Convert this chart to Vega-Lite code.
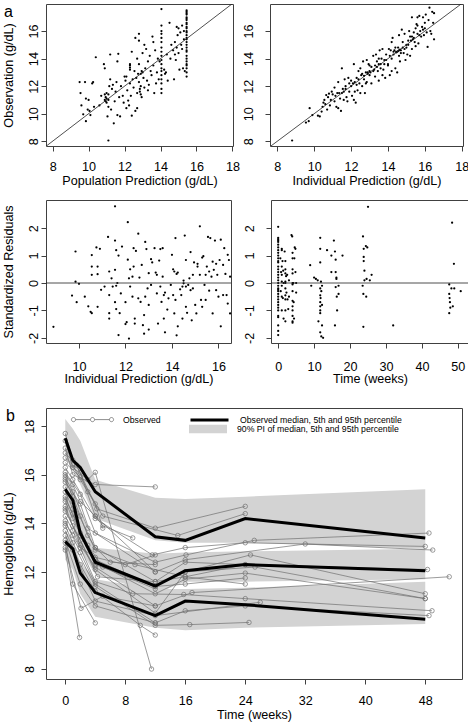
{
"$schema": "https://vega.github.io/schema/vega-lite/v6.json",
"padding": {"left": 1, "top": 3, "right": 0, "bottom": 0},
"resolve": {"scale": {"color": "independent", "fill": "independent", "stroke": "independent"}, "legend": {"color": "independent", "fill": "independent", "stroke": "independent"}},
"config": {
  "font": "Liberation Sans",
  "view": {"stroke": "#404040", "strokeWidth": 1},
  "axis": {"domain": false, "grid": false, "ticks": true, "tickColor": "#404040", "tickSize": 5, "tickWidth": 1, "tickCount": 20, "format": "d", "labelFont": "Liberation Sans", "labelFontSize": 12.6, "labelColor": "#000", "titleFont": "Liberation Sans", "titleFontSize": 12.6, "titleFontWeight": "normal", "titleColor": "#000", "labelFlush": false, "labelOverlap": false, "labelBound": false},
  "axisX": {"labelPadding": 9, "titlePadding": 2, "labelOverlap": false},
  "axisY": {"labelAngle": 270, "labelAlign": "center", "labelBaseline": "middle", "labelPadding": 8, "titlePadding": 12, "labelOverlap": false},
  "title": {"fontSize": 16, "fontWeight": "normal", "font": "Liberation Sans", "anchor": "start", "frame": "bounds", "color": "#000", "baseline": "alphabetic", "offset": 0},
  "legend": {"labelFont": "Liberation Sans", "labelFontSize": 8.7, "labelColor": "#000", "padding": 0, "labelLimit": 400}
},
"datasets": {
  "diag": [{"v": 6}, {"v": 20}],
  "zero": [{"v": 0}],
  "tl": [
{"x":9.5,"y":12.3},{"x":9.55,"y":11.5},{"x":9.6,"y":10.6},{"x":9.7,"y":9.95},{"x":9.8,"y":12.3},{"x":9.85,"y":11.1},{"x":9.85,"y":9.45},{"x":9.95,"y":10.3},{"x":10.0,"y":11.0},{"x":10.05,"y":10.2},{"x":10.1,"y":9.9},{"x":10.2,"y":12.2},{"x":10.25,"y":12.3},{"x":10.3,"y":10.5},{"x":10.4,"y":14.1},{"x":10.6,"y":10.6},{"x":10.7,"y":11.3},{"x":10.85,"y":13.6},{"x":10.9,"y":13.3},{"x":10.9,"y":11.4},{"x":10.9,"y":11.0},{"x":10.95,"y":11.2},{"x":10.95,"y":10.9},{"x":11.0,"y":11.5},{"x":11.0,"y":11.1},{"x":11.0,"y":10.8},{"x":11.05,"y":9.8},{"x":11.1,"y":11.4},{"x":11.1,"y":11.0},{"x":11.1,"y":10.5},{"x":11.1,"y":8.05},{"x":11.15,"y":12.0},{"x":11.2,"y":12.5},{"x":11.2,"y":14.3},{"x":11.25,"y":10.3},{"x":11.3,"y":11.8},{"x":11.35,"y":12.1},{"x":11.4,"y":9.3},{"x":11.45,"y":10.9},{"x":11.5,"y":11.6},{"x":11.55,"y":12.3},{"x":11.6,"y":9.9},{"x":11.6,"y":13.8},{"x":11.65,"y":14.35},{"x":11.7,"y":11.2},{"x":11.75,"y":9.8},{"x":11.8,"y":12.0},{"x":11.9,"y":11.3},{"x":11.95,"y":10.8},{"x":12.0,"y":12.7},{"x":12.05,"y":12.4},{"x":12.1,"y":12.7},{"x":12.1,"y":10.4},{"x":12.15,"y":11.7},{"x":12.2,"y":10.95},{"x":12.25,"y":10.6},{"x":12.3,"y":13.6},{"x":12.3,"y":13.5},{"x":12.3,"y":13.35},{"x":12.3,"y":13.2},{"x":12.3,"y":12.2},{"x":12.35,"y":11.3},{"x":12.4,"y":14.5},{"x":12.4,"y":9.85},{"x":12.45,"y":12.5},{"x":12.5,"y":11.9},{"x":12.55,"y":13.1},{"x":12.6,"y":15.5},{"x":12.6,"y":10.2},{"x":12.65,"y":12.6},{"x":12.7,"y":14.0},{"x":12.7,"y":11.5},{"x":12.7,"y":10.4},{"x":12.75,"y":12.9},{"x":12.8,"y":15.3},{"x":12.8,"y":15.8},{"x":12.8,"y":13.6},{"x":12.8,"y":12.3},{"x":12.85,"y":11.8},{"x":12.85,"y":11.6},{"x":12.9,"y":11.4},{"x":12.9,"y":12.0},{"x":12.9,"y":12.9},{"x":12.95,"y":11.2},{"x":12.95,"y":13.1},{"x":13.0,"y":13.0},{"x":13.0,"y":14.4},{"x":13.05,"y":12.6},{"x":13.1,"y":15.0},{"x":13.1,"y":11.9},{"x":13.15,"y":13.3},{"x":13.2,"y":14.7},{"x":13.25,"y":12.4},{"x":13.3,"y":13.8},{"x":13.3,"y":11.7},{"x":13.35,"y":12.1},{"x":13.4,"y":14.2},{"x":13.45,"y":13.1},{"x":13.5,"y":12.8},{"x":13.55,"y":15.6},{"x":13.6,"y":15.2},{"x":13.6,"y":13.5},{"x":13.65,"y":11.5},{"x":13.7,"y":14.6},{"x":13.75,"y":12.2},{"x":13.8,"y":13.0},{"x":13.85,"y":14.0},{"x":13.9,"y":12.5},{"x":13.95,"y":13.8},
{"x":14.05,"y":17.6},{"x":14.05,"y":16.4},{"x":14.05,"y":16.0},{"x":14.05,"y":15.8},{"x":14.05,"y":15.5},{"x":14.05,"y":15.2},{"x":14.05,"y":14.8},{"x":14.05,"y":14.5},{"x":14.05,"y":14.2},{"x":14.05,"y":13.9},{"x":14.05,"y":13.6},{"x":14.05,"y":13.3},{"x":14.05,"y":13.1},{"x":14.05,"y":12.8},{"x":14.05,"y":12.5},{"x":14.05,"y":12.2},{"x":14.05,"y":11.8},{"x":14.05,"y":11.5},
{"x":14.2,"y":13.2},{"x":14.25,"y":12.9},{"x":14.3,"y":13.0},{"x":14.35,"y":14.3},{"x":14.4,"y":12.4},{"x":14.5,"y":16.6},{"x":14.55,"y":14.0},{"x":14.6,"y":15.0},{"x":14.7,"y":14.6},{"x":14.75,"y":12.5},{"x":14.8,"y":15.2},{"x":14.8,"y":14.3},{"x":14.85,"y":13.9},{"x":14.9,"y":16.3},{"x":14.9,"y":14.8},{"x":14.95,"y":15.7},{"x":15.0,"y":14.4},{"x":15.0,"y":16.2},{"x":15.05,"y":13.2},{"x":15.1,"y":15.9},{"x":15.15,"y":15.0},{"x":15.2,"y":16.4},{"x":15.2,"y":14.7},{"x":15.25,"y":13.3},{"x":15.3,"y":16.0},{"x":15.3,"y":15.4},{"x":15.35,"y":13.1},
{"x":15.45,"y":17.5},{"x":15.45,"y":17.4},{"x":15.45,"y":17.3},{"x":15.45,"y":17.2},{"x":15.45,"y":17.0},{"x":15.45,"y":16.9},{"x":15.45,"y":16.8},{"x":15.45,"y":16.6},{"x":15.45,"y":16.5},{"x":15.45,"y":16.3},{"x":15.45,"y":16.2},{"x":15.45,"y":16.0},{"x":15.45,"y":15.9},{"x":15.45,"y":15.7},{"x":15.45,"y":15.5},{"x":15.45,"y":15.4},{"x":15.45,"y":15.2},{"x":15.45,"y":15.0},{"x":15.45,"y":14.8},{"x":15.45,"y":14.6},{"x":15.45,"y":14.5},{"x":15.45,"y":14.2},{"x":15.45,"y":14.0},{"x":15.45,"y":13.8},{"x":15.45,"y":13.6},{"x":15.45,"y":13.5},{"x":15.45,"y":13.3},{"x":15.45,"y":13.0},{"x":15.45,"y":12.7}
  ],
  "tr": [
{"x":8.8,"y":8.05},{"x":9.55,"y":9.35},{"x":9.7,"y":9.45},{"x":9.75,"y":10.4},{"x":9.9,"y":9.9},{"x":10.2,"y":9.85},{"x":10.3,"y":9.8},{"x":10.4,"y":10.15},{"x":10.45,"y":10.5},{"x":10.5,"y":10.8},{"x":10.55,"y":11.0},{"x":10.6,"y":10.7},{"x":10.65,"y":11.35},{"x":10.7,"y":10.3},{"x":10.75,"y":11.2},{"x":10.8,"y":11.45},{"x":10.85,"y":10.6},{"x":10.9,"y":11.0},{"x":10.95,"y":11.6},{"x":11.0,"y":11.4},{"x":11.1,"y":10.9},{"x":11.1,"y":11.9},{"x":11.15,"y":11.3},{"x":11.2,"y":10.5},{"x":11.25,"y":11.5},{"x":11.3,"y":10.4},{"x":11.3,"y":12.3},{"x":11.35,"y":11.5},{"x":11.4,"y":11.1},{"x":11.45,"y":10.2},{"x":11.5,"y":11.5},{"x":11.5,"y":13.3},{"x":11.55,"y":11.8},{"x":11.6,"y":11.0},{"x":11.6,"y":11.6},{"x":11.65,"y":12.5},{"x":11.7,"y":12.0},{"x":11.7,"y":11.8},{"x":11.75,"y":11.2},{"x":11.8,"y":10.9},{"x":11.85,"y":12.6},{"x":11.9,"y":11.6},{"x":11.9,"y":12.2},{"x":12.0,"y":12.0},{"x":12.0,"y":12.4},{"x":12.05,"y":11.3},{"x":12.1,"y":12.2},{"x":12.15,"y":13.6},{"x":12.15,"y":11.0},{"x":12.2,"y":12.3},{"x":12.2,"y":11.6},{"x":12.25,"y":10.8},{"x":12.3,"y":12.6},{"x":12.3,"y":12.1},{"x":12.35,"y":11.7},{"x":12.4,"y":13.1},{"x":12.4,"y":12.5},{"x":12.45,"y":12.2},{"x":12.5,"y":11.5},{"x":12.5,"y":13.3},{"x":12.55,"y":12.8},{"x":12.6,"y":12.0},{"x":12.6,"y":12.9},{"x":12.65,"y":13.8},{"x":12.7,"y":12.5},{"x":12.7,"y":12.75},{"x":12.75,"y":11.5},{"x":12.8,"y":13.0},{"x":12.8,"y":12.2},{"x":12.85,"y":12.3},{"x":12.85,"y":13.9},{"x":12.9,"y":12.9},{"x":12.9,"y":13.0},{"x":12.95,"y":13.6},{"x":13.0,"y":12.8},{"x":13.0,"y":13.1},{"x":13.0,"y":13.5},{"x":13.05,"y":13.0},{"x":13.1,"y":13.4},{"x":13.1,"y":12.2},{"x":13.2,"y":14.2},{"x":13.2,"y":13.1},{"x":13.25,"y":13.2},{"x":13.3,"y":13.5},{"x":13.3,"y":12.7},{"x":13.35,"y":14.3},{"x":13.4,"y":13.4},{"x":13.4,"y":13.8},{"x":13.45,"y":13.1},{"x":13.5,"y":13.6},{"x":13.5,"y":12.4},{"x":13.5,"y":14.0},{"x":13.55,"y":14.6},{"x":13.6,"y":13.3},{"x":13.6,"y":13.6},{"x":13.65,"y":14.0},{"x":13.7,"y":12.8},{"x":13.7,"y":14.7},{"x":13.75,"y":13.2},{"x":13.8,"y":13.9},{"x":13.8,"y":13.6},{"x":13.85,"y":12.6},{"x":13.9,"y":14.3},{"x":13.9,"y":13.9},{"x":14.0,"y":13.6},{"x":14.0,"y":13.5},{"x":14.05,"y":14.7},{"x":14.1,"y":12.8},{"x":14.1,"y":14.2},{"x":14.15,"y":14.6},{"x":14.2,"y":14.0},{"x":14.2,"y":13.1},{"x":14.2,"y":15.2},{"x":14.25,"y":15.5},{"x":14.3,"y":14.5},{"x":14.3,"y":14.3},{"x":14.35,"y":14.6},{"x":14.4,"y":13.3},{"x":14.4,"y":14.8},{"x":14.45,"y":14.5},{"x":14.45,"y":14.45},{"x":14.5,"y":14.5},{"x":14.5,"y":13.0},{"x":14.55,"y":14.8},{"x":14.55,"y":14.55},{"x":14.6,"y":14.2},{"x":14.6,"y":15.7},{"x":14.6,"y":14.6},{"x":14.65,"y":13.8},{"x":14.65,"y":14.65},{"x":14.7,"y":14.6},{"x":14.7,"y":14.4},{"x":14.75,"y":16.1},{"x":14.8,"y":14.8},{"x":14.8,"y":15.2},{"x":14.85,"y":14.4},{"x":14.9,"y":14.7},{"x":14.9,"y":15.8},{"x":14.95,"y":13.9},{"x":15.0,"y":15.0},{"x":15.0,"y":14.8},{"x":15.05,"y":14.3},{"x":15.1,"y":15.3},{"x":15.1,"y":15.0},{"x":15.15,"y":16.0},{"x":15.2,"y":14.2},{"x":15.2,"y":15.6},{"x":15.25,"y":15.3},{"x":15.3,"y":17.0},{"x":15.3,"y":14.7},{"x":15.3,"y":15.6},{"x":15.35,"y":15.4},{"x":15.4,"y":15.9},{"x":15.4,"y":15.5},{"x":15.45,"y":15.2},{"x":15.5,"y":16.2},{"x":15.5,"y":14.9},{"x":15.55,"y":16.5},{"x":15.6,"y":15.8},{"x":15.6,"y":16.4},{"x":15.6,"y":17.0},{"x":15.65,"y":15.1},{"x":15.7,"y":17.1},{"x":15.7,"y":15.7},{"x":15.75,"y":16.0},{"x":15.8,"y":15.6},{"x":15.85,"y":16.3},{"x":15.9,"y":17.0},{"x":15.9,"y":16.1},{"x":15.95,"y":15.7},{"x":16.0,"y":16.2},{"x":16.0,"y":16.6},{"x":16.05,"y":17.2},{"x":16.1,"y":15.9},{"x":16.15,"y":14.85},{"x":16.2,"y":16.8},{"x":16.25,"y":17.7},{"x":16.3,"y":16.0},{"x":16.35,"y":15.8},{"x":16.4,"y":17.4},{"x":16.45,"y":16.6},{"x":16.5,"y":15.4},{"x":16.5,"y":17.3}
  ],
  "bl": [
{"x":8.9,"y":-1.6},{"x":9.7,"y":-0.46},{"x":9.9,"y":-0.7},{"x":9.85,"y":1.15},{"x":9.85,"y":0.05},{"x":10.0,"y":-0.03},{"x":10.25,"y":-0.5},{"x":10.4,"y":-0.85},{"x":10.5,"y":-1.05},{"x":10.55,"y":-1.1},{"x":10.55,"y":0.6},{"x":10.55,"y":1.02},{"x":10.55,"y":0.3},{"x":10.75,"y":1.3},{"x":10.8,"y":0.6},{"x":10.8,"y":-0.87},{"x":10.9,"y":1.25},{"x":10.8,"y":0.32},{"x":10.95,"y":-0.25},{"x":11.1,"y":-0.13},{"x":11.3,"y":-0.44},{"x":11.25,"y":1.68},{"x":11.3,"y":0.42},{"x":11.3,"y":-1.1},{"x":11.3,"y":-1.3},{"x":11.4,"y":0.17},{"x":11.45,"y":-0.13},{"x":11.55,"y":1.55},{"x":11.55,"y":-0.7},{"x":11.55,"y":2.8},{"x":11.55,"y":0.48},{"x":11.6,"y":1.2},{"x":11.6,"y":-0.1},{"x":11.6,"y":-0.95},{"x":11.65,"y":0.0},{"x":11.7,"y":1.0},{"x":11.7,"y":-1.9},{"x":11.75,"y":-1.1},{"x":11.8,"y":-0.38},{"x":11.85,"y":1.33},{"x":12.0,"y":-1.5},{"x":12.0,"y":-0.7},{"x":12.05,"y":-1.43},{"x":12.1,"y":2.22},{"x":12.1,"y":0.85},{"x":12.15,"y":0.17},{"x":12.15,"y":-2.03},{"x":12.2,"y":0.5},{"x":12.2,"y":-0.13},{"x":12.3,"y":0.23},{"x":12.3,"y":-0.5},{"x":12.35,"y":1.27},{"x":12.35,"y":0.6},{"x":12.4,"y":-1.3},{"x":12.4,"y":-1.48},{"x":12.45,"y":1.17},{"x":12.55,"y":1.8},{"x":12.55,"y":-0.56},{"x":12.6,"y":0.2},{"x":12.65,"y":-0.69},{"x":12.7,"y":0.66},{"x":12.75,"y":-1.54},{"x":12.8,"y":-1.85},{"x":12.8,"y":-1.17},{"x":12.85,"y":-0.5},{"x":12.85,"y":1.5},{"x":12.9,"y":1.24},{"x":12.95,"y":-0.2},{"x":13.0,"y":0.36},{"x":13.0,"y":-1.7},{"x":13.0,"y":-0.8},{"x":13.1,"y":0.87},{"x":13.1,"y":-0.07},{"x":13.15,"y":0.75},{"x":13.25,"y":1.27},{"x":13.3,"y":0.38},{"x":13.35,"y":0.3},{"x":13.35,"y":-0.38},{"x":13.4,"y":-1.48},{"x":13.45,"y":0.82},{"x":13.5,"y":-0.13},{"x":13.5,"y":1.24},{"x":13.55,"y":-0.69},{"x":13.6,"y":1.27},{"x":13.6,"y":0.23},{"x":13.65,"y":-1.3},{"x":13.65,"y":-0.44},{"x":13.7,"y":-0.35},{"x":13.7,"y":-1.8},{"x":13.8,"y":-0.97},{"x":13.85,"y":-0.56},{"x":13.95,"y":-0.07},{"x":14.0,"y":1.03},{"x":14.05,"y":-0.44},{"x":14.05,"y":0.5},{"x":14.1,"y":0.42},{"x":14.1,"y":-1.11},{"x":14.15,"y":-0.62},{"x":14.15,"y":1.64},{"x":14.2,"y":0.33},{"x":14.2,"y":-1.91},{"x":14.25,"y":0.38},{"x":14.25,"y":-1.58},{"x":14.35,"y":-0.23},{"x":14.4,"y":-0.44},{"x":14.45,"y":-1.3},{"x":14.45,"y":-0.13},{"x":14.5,"y":0.09},{"x":14.5,"y":-0.01},{"x":14.55,"y":1.73},{"x":14.6,"y":-0.87},{"x":14.6,"y":0.84},{"x":14.6,"y":-0.13},{"x":14.65,"y":-1.09},{"x":14.7,"y":-0.07},{"x":14.75,"y":0.17},{"x":14.8,"y":-0.26},{"x":14.8,"y":1.13},{"x":14.85,"y":-1.36},{"x":14.9,"y":-0.2},{"x":14.9,"y":0.3},{"x":14.95,"y":0.75},{"x":15.0,"y":-0.8},{"x":15.05,"y":-1.11},{"x":15.1,"y":0.6},{"x":15.1,"y":0.7},{"x":15.2,"y":2.07},{"x":15.2,"y":0.3},{"x":15.25,"y":-0.62},{"x":15.3,"y":0.93},{"x":15.3,"y":-0.87},{"x":15.35,"y":0.98},{"x":15.4,"y":-0.07},{"x":15.45,"y":-0.62},{"x":15.45,"y":0.3},{"x":15.5,"y":0.6},{"x":15.55,"y":1.68},{"x":15.6,"y":0.42},{"x":15.6,"y":-0.28},{"x":15.65,"y":1.64},{"x":15.7,"y":0.23},{"x":15.75,"y":0.78},{"x":15.75,"y":-1.11},{"x":15.8,"y":0.48},{"x":15.85,"y":1.55},{"x":15.9,"y":-0.26},{"x":15.9,"y":0.7},{"x":15.95,"y":0.3},{"x":16.0,"y":-0.5},{"x":16.05,"y":0.84},{"x":16.1,"y":1.58},{"x":16.1,"y":-1.58},{"x":16.2,"y":-0.44},{"x":16.2,"y":0.66},{"x":16.25,"y":1.27},{"x":16.3,"y":0.33},{"x":16.35,"y":-0.44},{"x":16.4,"y":-0.75},{"x":16.4,"y":1.03},{"x":16.45,"y":0.84},{"x":16.5,"y":-1.11},{"x":16.5,"y":0.23}
  ],
  "br": [
{"x":0,"y":2.05},{"x":0,"y":1.65},{"x":0,"y":1.6},{"x":0,"y":1.55},{"x":0,"y":1.5},{"x":0,"y":1.4},{"x":0,"y":1.3},{"x":0,"y":1.2},{"x":0,"y":1.1},{"x":0,"y":1.0},{"x":0,"y":0.9},{"x":0,"y":0.8},{"x":0,"y":0.75},{"x":0,"y":0.6},{"x":0,"y":0.5},{"x":0,"y":0.4},{"x":0,"y":0.3},{"x":0,"y":0.2},{"x":0,"y":0.1},{"x":0,"y":0.0},{"x":0,"y":-0.1},{"x":0,"y":-0.2},{"x":0,"y":-0.25},{"x":0,"y":-0.3},{"x":0,"y":-0.4},{"x":0,"y":-0.5},{"x":0,"y":-0.6},{"x":0,"y":-0.7},{"x":0,"y":-0.8},{"x":0,"y":-0.9},{"x":0,"y":-1.0},{"x":0,"y":-1.2},{"x":0,"y":-1.25},{"x":0,"y":-1.55},{"x":0,"y":-1.75},{"x":0,"y":-1.9},
{"x":0.6,"y":0.9},{"x":0.7,"y":-0.3},{"x":0.8,"y":0.4},{"x":1,"y":1.25},{"x":1,"y":1.2},{"x":1,"y":0.6},{"x":1,"y":0.3},{"x":1,"y":0.05},{"x":1,"y":-0.1},{"x":1,"y":-0.5},{"x":1,"y":-1.0},{"x":1.2,"y":0.8},{"x":1.3,"y":-0.55},{"x":1.4,"y":0.45},{"x":1.5,"y":-1.3},{"x":1.5,"y":0.0},
{"x":1.8,"y":1.15},{"x":2,"y":0.8},{"x":2,"y":0.5},{"x":2,"y":0.35},{"x":2,"y":0.05},{"x":2,"y":0.0},{"x":2,"y":-0.2},{"x":2,"y":-0.45},{"x":2,"y":-0.6},{"x":2,"y":-1.0},{"x":2,"y":-1.4},{"x":2.2,"y":0.25},{"x":2.3,"y":-0.35},{"x":2.5,"y":0.3},{"x":2.6,"y":-0.6},{"x":2.8,"y":-0.95},{"x":3,"y":0.1},{"x":3,"y":-0.5},
{"x":3.7,"y":1.75},{"x":3.9,"y":1.7},{"x":4,"y":1.1},{"x":4,"y":0.9},{"x":4,"y":0.5},{"x":4,"y":0.35},{"x":4,"y":0.0},{"x":4,"y":-0.05},{"x":4,"y":-0.3},{"x":4,"y":-0.65},{"x":4,"y":-0.85},{"x":4,"y":-1.0},{"x":4,"y":-1.2},{"x":4,"y":-1.4},{"x":4,"y":-1.45},{"x":4.2,"y":0.0},{"x":4.3,"y":-0.7},
{"x":4.6,"y":1.3},{"x":4.8,"y":1.25},{"x":4.5,"y":0.9},{"x":4.8,"y":0.4},{"x":5,"y":0.0},{"x":5,"y":-0.35},{"x":4.4,"y":-1.3},
{"x":8.9,"y":0.65},{"x":9.2,"y":-0.1},{"x":10,"y":0.2},{"x":10.5,"y":0.15},{"x":11,"y":0.1},{"x":11.2,"y":-1.4},{"x":11.7,"y":1.65},{"x":11.7,"y":1.25},{"x":11.7,"y":0.75},{"x":11.7,"y":-0.2},{"x":11.7,"y":-0.45},{"x":11.7,"y":-0.7},{"x":11.7,"y":-0.85},{"x":11.7,"y":-1.0},{"x":11.7,"y":-1.1},{"x":11.7,"y":-1.8},{"x":12,"y":-1.95},{"x":12.2,"y":-0.1},{"x":12.2,"y":-0.8},{"x":12.2,"y":-1.55},{"x":12.5,"y":-2.0},{"x":11.9,"y":0.05},{"x":12,"y":-0.3},{"x":11.8,"y":-0.55},
{"x":13.6,"y":1.2},{"x":14.8,"y":1.0},{"x":14.8,"y":0.4},{"x":15.5,"y":1.55},{"x":15.8,"y":1.15},{"x":16,"y":0.85},{"x":16,"y":0.4},{"x":16.2,"y":0.2},{"x":16.2,"y":0.15},{"x":16,"y":-0.15},{"x":16.3,"y":-0.5},{"x":16.4,"y":-1.0},{"x":15.8,"y":-1.55},{"x":16.8,"y":-0.4},{"x":16.8,"y":-0.1},{"x":17.9,"y":1.0},
{"x":23.6,"y":1.7},{"x":23.8,"y":1.25},{"x":23.8,"y":0.95},{"x":23.8,"y":0.8},{"x":24,"y":0.45},{"x":24,"y":0.1},{"x":23.5,"y":-0.1},{"x":23.7,"y":-0.4},{"x":23.7,"y":-1.6},{"x":24.4,"y":1.35},{"x":24.8,"y":1.3},{"x":25,"y":2.78},{"x":24.6,"y":0.15},{"x":24.5,"y":-0.5},{"x":25.5,"y":0.1},{"x":26,"y":0.3},
{"x":32,"y":-1.55},
{"x":47.6,"y":-0.05},{"x":47.6,"y":-0.4},{"x":47.7,"y":-0.55},{"x":47.8,"y":-0.7},{"x":47.9,"y":-0.9},{"x":47.6,"y":-1.1},{"x":48.4,"y":2.2},{"x":48.2,"y":-0.2},{"x":48.6,"y":-0.85},{"x":48.9,"y":0.7},{"x":49,"y":-0.2},{"x":50.8,"y":-0.3}
  ],
  "subj": [
{"id":1,"t":0,"v":17.7},{"id":1,"t":1,"v":16.6},{"id":1,"t":2,"v":16.1},{"id":1,"t":4,"v":14.3},{"id":1,"t":12,"v":12.0},
{"id":2,"t":0,"v":17.4},{"id":2,"t":1,"v":16.3},{"id":2,"t":3,"v":15.8},{"id":2,"t":4,"v":16.1},{"id":2,"t":11.5,"v":8.0},
{"id":3,"t":0,"v":17.1},{"id":3,"t":1,"v":16.0},{"id":3,"t":4,"v":15.6},{"id":3,"t":12,"v":15.5},
{"id":4,"t":0,"v":16.9},{"id":4,"t":1.5,"v":16.4},{"id":4,"t":4.2,"v":14.6},{"id":4,"t":12,"v":13.8},{"id":4,"t":24,"v":14.7},
{"id":5,"t":0,"v":16.5},{"id":5,"t":2,"v":15.9},{"id":5,"t":5,"v":14.3},{"id":5,"t":15,"v":13.5},{"id":5,"t":24,"v":14.4},
{"id":6,"t":0,"v":16.3},{"id":6,"t":1,"v":15.8},{"id":6,"t":4,"v":14.2},{"id":6,"t":11.6,"v":12.7},{"id":6,"t":16,"v":13.0},{"id":6,"t":24,"v":13.2},{"id":6,"t":48,"v":13.05},
{"id":7,"t":0,"v":16.1},{"id":7,"t":2,"v":15.2},{"id":7,"t":4,"v":13.6},{"id":7,"t":12,"v":12.4},{"id":7,"t":16.1,"v":12.7},{"id":7,"t":25.2,"v":13.3},{"id":7,"t":48.5,"v":13.6},
{"id":8,"t":0,"v":15.9},{"id":8,"t":1,"v":15.3},{"id":8,"t":3,"v":13.8},{"id":8,"t":12,"v":12.0},{"id":8,"t":16,"v":12.5},{"id":8,"t":32,"v":13.15},{"id":8,"t":49,"v":12.9},
{"id":9,"t":0,"v":15.7},{"id":9,"t":2,"v":14.8},{"id":9,"t":4,"v":13.0},{"id":9,"t":12,"v":11.6},{"id":9,"t":16,"v":12.4},{"id":9,"t":24,"v":12.3},{"id":9,"t":48.3,"v":12.1},
{"id":10,"t":0,"v":15.5},{"id":10,"t":1,"v":14.9},{"id":10,"t":4,"v":12.9},{"id":10,"t":9.3,"v":12.3},{"id":10,"t":16,"v":11.8},{"id":10,"t":24,"v":12.3},
{"id":11,"t":0,"v":15.3},{"id":11,"t":1,"v":14.6},{"id":11,"t":2,"v":13.5},{"id":11,"t":4,"v":12.5},{"id":11,"t":12,"v":11.4},{"id":11,"t":16,"v":12.0},{"id":11,"t":24.7,"v":12.7},{"id":11,"t":48,"v":11.1},
{"id":12,"t":0,"v":15.1},{"id":12,"t":2,"v":13.6},{"id":12,"t":4,"v":12.4},{"id":12,"t":12,"v":11.1},{"id":12,"t":16,"v":11.7},{"id":12,"t":24,"v":11.95},{"id":12,"t":48,"v":10.9},
{"id":13,"t":0,"v":14.9},{"id":13,"t":1,"v":14.2},{"id":13,"t":4,"v":12.3},{"id":13,"t":12,"v":11.4},{"id":13,"t":16,"v":11.5},{"id":13,"t":24,"v":11.75},
{"id":14,"t":0,"v":14.7},{"id":14,"t":2,"v":13.1},{"id":14,"t":4,"v":12.2},{"id":14,"t":12,"v":10.6},{"id":14,"t":16.9,"v":11.15},{"id":14,"t":51.2,"v":11.8},
{"id":15,"t":0,"v":14.6},{"id":15,"t":1,"v":13.9},{"id":15,"t":4,"v":12.1},{"id":15,"t":12,"v":10.3},{"id":15,"t":16,"v":12.0},{"id":15,"t":25.3,"v":12.2},{"id":15,"t":48,"v":10.9},
{"id":16,"t":0,"v":14.5},{"id":16,"t":2,"v":13.3},{"id":16,"t":4.3,"v":11.8},{"id":16,"t":12,"v":11.6},{"id":16,"t":16,"v":11.8},{"id":16,"t":24,"v":11.5},
{"id":17,"t":0,"v":14.3},{"id":17,"t":1,"v":13.7},{"id":17,"t":4,"v":11.6},{"id":17,"t":9,"v":11.1},{"id":17,"t":15.8,"v":11.07},{"id":17,"t":24,"v":10.9},{"id":17,"t":48.9,"v":10.4},
{"id":18,"t":0,"v":14.1},{"id":18,"t":2,"v":12.8},{"id":18,"t":4,"v":11.5},{"id":18,"t":12,"v":9.9},{"id":18,"t":16,"v":10.4},{"id":18,"t":24,"v":10.6},{"id":18,"t":48.5,"v":10.2},
{"id":19,"t":0,"v":13.9},{"id":19,"t":1,"v":13.2},{"id":19,"t":4,"v":11.4},{"id":19,"t":12,"v":9.8},{"id":19,"t":16.6,"v":9.83},{"id":19,"t":24.5,"v":9.92},
{"id":20,"t":0,"v":13.7},{"id":20,"t":2,"v":12.3},{"id":20,"t":4,"v":11.2},{"id":20,"t":10,"v":9.8},{"id":20,"t":12,"v":9.4},
{"id":21,"t":0,"v":13.5},{"id":21,"t":1,"v":12.9},{"id":21,"t":4,"v":10.8},{"id":21,"t":12,"v":10.2},{"id":21,"t":26,"v":10.75},
{"id":22,"t":0,"v":13.3},{"id":22,"t":2,"v":11.5},{"id":22,"t":4,"v":10.6},{"id":22,"t":12,"v":9.9},
{"id":23,"t":0,"v":13.2},{"id":23,"t":1,"v":11.5},{"id":23,"t":4,"v":9.9},
{"id":24,"t":0,"v":12.9},{"id":24,"t":1.9,"v":9.3},
{"id":25,"t":0,"v":13.0},{"id":25,"t":2.1,"v":10.5},{"id":25,"t":5,"v":11.0},{"id":25,"t":12,"v":10.6},
{"id":26,"t":0,"v":16.7},{"id":26,"t":1,"v":16.4},{"id":26,"t":2,"v":15.8},{"id":26,"t":3,"v":15.3},{"id":26,"t":4,"v":14.8},{"id":26,"t":5,"v":13.8},
{"id":27,"t":0,"v":15.8},{"id":27,"t":1,"v":15.1},{"id":27,"t":2,"v":14.3},{"id":27,"t":3,"v":13.5},{"id":27,"t":4,"v":13.0},{"id":27,"t":6,"v":12.4},{"id":27,"t":12,"v":12.3},
{"id":28,"t":0,"v":14.0},{"id":28,"t":1,"v":13.5},{"id":28,"t":2,"v":13.0},{"id":28,"t":4,"v":12.6},{"id":28,"t":8,"v":12.3},{"id":28,"t":12,"v":12.7},
{"id":29,"t":0,"v":16.0},{"id":29,"t":1,"v":15.6},{"id":29,"t":2,"v":14.9},{"id":29,"t":4,"v":14.3},{"id":29,"t":5,"v":13.9},{"id":29,"t":9,"v":13.4},
{"id":30,"t":0,"v":15.0},{"id":30,"t":1,"v":14.4},{"id":30,"t":3,"v":13.1},{"id":30,"t":5,"v":12.2},{"id":30,"t":12,"v":11.3}
  ],
  "med": [
{"q":"p95","t":0,"v":17.5},{"q":"p95","t":1,"v":16.6},{"q":"p95","t":2,"v":16.3},{"q":"p95","t":4,"v":15.3},{"q":"p95","t":12,"v":13.45},{"q":"p95","t":16,"v":13.3},{"q":"p95","t":24,"v":14.2},{"q":"p95","t":48,"v":13.4},
{"q":"p50","t":0,"v":15.4},{"q":"p50","t":1,"v":14.95},{"q":"p50","t":2,"v":13.6},{"q":"p50","t":4,"v":12.4},{"q":"p50","t":12,"v":11.42},{"q":"p50","t":16,"v":12.05},{"q":"p50","t":24,"v":12.3},{"q":"p50","t":48,"v":12.05},
{"q":"p05","t":0,"v":13.25},{"q":"p05","t":1,"v":12.95},{"q":"p05","t":2,"v":11.95},{"q":"p05","t":4,"v":11.15},{"q":"p05","t":12,"v":10.2},{"q":"p05","t":16,"v":10.8},{"q":"p05","t":24,"v":10.65},{"q":"p05","t":48,"v":10.05}
  ],
  "band": [
{"q":"p95","t":0,"lo":16.7,"hi":18.3},{"q":"p95","t":1,"lo":16.2,"hi":17.9},{"q":"p95","t":2,"lo":15.6,"hi":17.4},{"q":"p95","t":4,"lo":14.2,"hi":15.8},{"q":"p95","t":12,"lo":13.3,"hi":15.05},{"q":"p95","t":16,"lo":13.2,"hi":15.0},{"q":"p95","t":24,"lo":13.2,"hi":15.1},{"q":"p95","t":48,"lo":12.95,"hi":15.4},
{"q":"p50","t":0,"lo":14.6,"hi":16.1},{"q":"p50","t":1,"lo":14.1,"hi":15.6},{"q":"p50","t":2,"lo":12.9,"hi":14.5},{"q":"p50","t":4,"lo":11.9,"hi":13.0},{"q":"p50","t":12,"lo":11.1,"hi":12.75},{"q":"p50","t":16,"lo":11.6,"hi":12.8},{"q":"p50","t":24,"lo":11.6,"hi":12.85},{"q":"p50","t":48,"lo":11.7,"hi":12.95},
{"q":"p05","t":0,"lo":12.5,"hi":13.7},{"q":"p05","t":1,"lo":12.1,"hi":13.3},{"q":"p05","t":2,"lo":11.1,"hi":12.4},{"q":"p05","t":4,"lo":10.15,"hi":11.7},{"q":"p05","t":12,"lo":9.7,"hi":11.3},{"q":"p05","t":16,"lo":9.6,"hi":11.3},{"q":"p05","t":24,"lo":9.7,"hi":11.35},{"q":"p05","t":48,"lo":9.85,"hi":11.6}
  ]
},
"spacing": 13,
"vconcat": [
 {
  "spacing": 11,
  "vconcat": [
   {
    "bounds": "flush",
    "spacing": 37,
    "hconcat": [
     {
      "width": 187, "height": 142,
      "title": {"text": "a", "dx": 2, "dy": 20},
      "layer": [
       {"data": {"name": "tl"}, "mark": {"type": "circle", "size": 5, "color": "#000", "opacity": 1},
        "encoding": {
         "x": {"field": "x", "type": "quantitative", "scale": {"domain": [7.63, 18.03], "nice": false, "zero": false}, "axis": {"title": "Population Prediction (g/dL)", "values": [8, 10, 12, 14, 16, 18], "format": "d", "tickCount": 20, "labelOverlap": false}},
         "y": {"field": "y", "type": "quantitative", "scale": {"domain": [7.65, 17.97], "nice": false, "zero": false}, "axis": {"title": "Observation (g/dL)", "values": [8, 10, 12, 14, 16, 18], "format": "d", "tickCount": 20, "labelOverlap": false}}}},
       {"data": {"name": "diag"}, "mark": {"type": "line", "color": "#222", "strokeWidth": 0.8, "clip": true},
        "encoding": {
         "x": {"field": "v", "type": "quantitative", "title": "Population Prediction (g/dL)", "scale": {"domain": [7.63, 18.03], "nice": false, "zero": false}},
         "y": {"field": "v", "type": "quantitative", "title": "Observation (g/dL)", "scale": {"domain": [7.65, 17.97], "nice": false, "zero": false}}}}
      ]
     },
     {
      "width": 193, "height": 142,
      "layer": [
       {"data": {"name": "tr"}, "mark": {"type": "circle", "size": 5, "color": "#000", "opacity": 1},
        "encoding": {
         "x": {"field": "x", "type": "quantitative", "scale": {"domain": [7.6, 18.07], "nice": false, "zero": false}, "axis": {"title": "Individual Prediction (g/dL)", "values": [8, 10, 12, 14, 16, 18], "format": "d", "tickCount": 20, "labelOverlap": false}},
         "y": {"field": "y", "type": "quantitative", "scale": {"domain": [7.65, 17.97], "nice": false, "zero": false}, "axis": {"title": null, "values": [8, 10, 12, 14, 16, 18], "format": "d", "tickCount": 20, "labelPadding": 16.7, "labelOverlap": false}}}},
       {"data": {"name": "diag"}, "mark": {"type": "line", "color": "#222", "strokeWidth": 0.8, "clip": true},
        "encoding": {
         "x": {"field": "v", "type": "quantitative", "title": "Individual Prediction (g/dL)", "scale": {"domain": [7.6, 18.07], "nice": false, "zero": false}},
         "y": {"field": "v", "type": "quantitative", "title": null, "scale": {"domain": [7.65, 17.97], "nice": false, "zero": false}}}}
      ]
     }
    ]
   },
   {
    "bounds": "flush",
    "spacing": 40,
    "hconcat": [
     {
      "width": 185, "height": 143,
      "layer": [
       {"data": {"name": "bl"}, "mark": {"type": "circle", "size": 5, "color": "#000", "opacity": 1},
        "encoding": {
         "x": {"field": "x", "type": "quantitative", "scale": {"domain": [8.58, 16.54], "nice": false, "zero": false}, "axis": {"title": "Individual Prediction (g/dL)", "values": [10, 12, 14, 16], "format": "d", "tickCount": 20, "labelPadding": 12, "titlePadding": 0, "labelOverlap": false}},
         "y": {"field": "y", "type": "quantitative", "scale": {"domain": [-2.19, 3.03], "nice": false, "zero": false}, "axis": {"title": "Standardized Residuals", "values": [-2, -1, 0, 1, 2], "tickCount": 20, "labelExpr": "'' + datum.value", "labelPadding": 7.6, "labelOverlap": false}}}},
       {"data": {"name": "zero"}, "mark": {"type": "rule", "color": "#222", "strokeWidth": 0.8},
        "encoding": {
         "y": {"field": "v", "type": "quantitative", "title": "Standardized Residuals", "scale": {"domain": [-2.19, 3.03], "nice": false, "zero": false}}}}
      ]
     },
     {
      "width": 198, "height": 143,
      "layer": [
       {"data": {"name": "br"}, "mark": {"type": "circle", "size": 5, "color": "#000", "opacity": 1},
        "encoding": {
         "x": {"field": "x", "type": "quantitative", "scale": {"domain": [-2.0, 53.1], "nice": false, "zero": false}, "axis": {"title": "Time (weeks)", "values": [0, 10, 20, 30, 40, 50], "format": "d", "tickCount": 20, "labelPadding": 12, "titlePadding": 0, "labelOverlap": false}},
         "y": {"field": "y", "type": "quantitative", "scale": {"domain": [-2.19, 3.03], "nice": false, "zero": false}, "axis": {"title": null, "values": [-2, -1, 0, 1, 2], "tickCount": 20, "labelExpr": "'' + datum.value", "labelPadding": 16.7, "labelOverlap": false}}}},
       {"data": {"name": "zero"}, "mark": {"type": "rule", "color": "#222", "strokeWidth": 0.8},
        "encoding": {
         "y": {"field": "v", "type": "quantitative", "title": null, "scale": {"domain": [-2.19, 3.03], "nice": false, "zero": false}}}}
      ]
     }
    ]
   }
  ]
 },
 {
  "width": 416, "height": 271,
  "title": {"text": "b", "dx": 4, "dy": 28.2},
  "layer": [
   {"data": {"name": "band"}, "mark": {"type": "area"},
    "encoding": {
     "x": {"field": "t", "type": "quantitative", "scale": {"domain": [-2.57, 52.9], "nice": false, "zero": false}, "axis": {"title": "Time (weeks)", "values": [0, 8, 16, 24, 32, 40, 48], "format": "d", "tickCount": 20, "labelPadding": 10, "labelOverlap": false}},
     "y": {"field": "lo", "type": "quantitative", "scale": {"domain": [7.59, 18.75], "nice": false, "zero": false}, "axis": {"title": "Hemoglobin (g/dL)", "values": [8, 10, 12, 14, 16, 18], "format": "d", "tickCount": 20, "labelPadding": 12, "titlePadding": 8, "labelOverlap": false}},
     "y2": {"field": "hi"},
     "detail": {"field": "q"},
     "fill": {"datum": "90% PI of median, 5th and 95th percentile", "scale": {"range": ["#d3d3d3"]},
      "legend": {"orient": "none", "legendX": 143, "legendY": 2, "title": null, "symbolType": "M-1,-0.22H1V0.22H-1Z", "symbolSize": 1444, "symbolStrokeWidth": 0, "labelOffset": 10}}}},
   {"data": {"name": "subj"}, "mark": {"type": "line", "strokeWidth": 0.7, "point": {"filled": false, "size": 20, "strokeWidth": 0.7}},
    "encoding": {
     "x": {"field": "t", "type": "quantitative", "title": "Time (weeks)", "scale": {"domain": [-2.57, 52.9], "nice": false, "zero": false}},
     "y": {"field": "v", "type": "quantitative", "title": "Hemoglobin (g/dL)", "scale": {"domain": [7.59, 18.75], "nice": false, "zero": false}},
     "detail": {"field": "id"},
     "color": {"datum": "Observed", "scale": {"range": ["#707070"]},
      "legend": {"orient": "none", "legendX": 27, "legendY": -7.9, "title": null, "symbolType": "M-0.89,0H-0.11M0.11,0H0.89M-0.89,0A0.11,0.11 0 1 1 -1.11,0A0.11,0.11 0 1 1 -0.89,0M0.11,0A0.11,0.11 0 1 1 -0.11,0A0.11,0.11 0 1 1 0.11,0M1.11,0A0.11,0.11 0 1 1 0.89,0A0.11,0.11 0 1 1 1.11,0", "symbolSize": 1444, "symbolStrokeWidth": 0.8, "symbolFillColor": "transparent", "labelOffset": 11}}}},
   {"data": {"name": "med"}, "mark": {"type": "line", "strokeWidth": 3},
    "encoding": {
     "x": {"field": "t", "type": "quantitative", "title": "Time (weeks)", "scale": {"domain": [-2.57, 52.9], "nice": false, "zero": false}},
     "y": {"field": "v", "type": "quantitative", "title": "Hemoglobin (g/dL)", "scale": {"domain": [7.59, 18.75], "nice": false, "zero": false}},
     "detail": {"field": "q"},
     "stroke": {"datum": "Observed  median, 5th and 95th percentile", "scale": {"range": ["#000"]},
      "legend": {"orient": "none", "legendX": 143, "legendY": -8.4, "title": null, "symbolType": "M-1,0H1", "symbolSize": 1444, "symbolStrokeWidth": 3, "labelOffset": 10}}}}
  ]
 }
]
}
